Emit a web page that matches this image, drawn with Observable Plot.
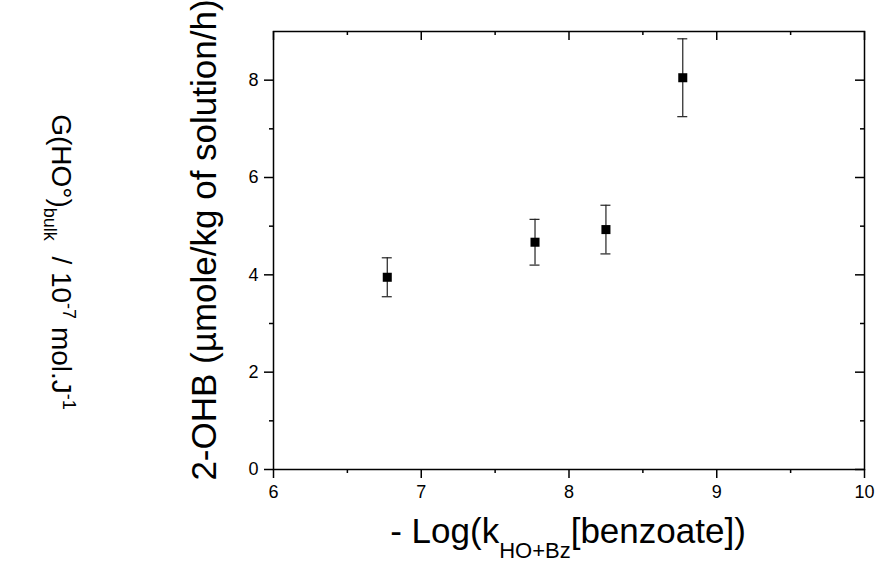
<!DOCTYPE html>
<html><head><meta charset="utf-8">
<script src="https://cdn.jsdelivr.net/npm/d3@7"></script>
<script src="https://cdn.jsdelivr.net/npm/@observablehq/plot@0.6"></script>
<style>body{margin:0;background:#fff} svg{display:block}</style>
</head><body><div id="chart"></div>
<script>
const xValues = [6.77, 7.77, 8.25, 8.77];
const yValues = [3.95, 4.67, 4.93, 8.05];
const yErrors = [0.40, 0.47, 0.50, 0.80];
const xMajorTicks = [6, 7, 8, 9, 10];
const xMinorTicks = [6.5, 7.5, 8.5, 9.5];
const yMajorTicks = [0, 2, 4, 6, 8];
const yMinorTicks = [1, 3, 5, 7];
const yLabel = "2-OHB (µmole/kg of solution/h)";
const xLabelMain = "- Log(k";
const xLabelSub = "HO+Bz";
const xLabelEnd = "[benzoate])";
const gLabelParts = ["G(HO°)", "bulk", "  / 10", "-7", " mol.J", "-1"];

const data = xValues.map((x, i) => ({x, y: yValues[i], e: yErrors[i]}));
const font = "'Liberation Sans', Arial, sans-serif";
const W = 882, H = 564, mL = 273, mR = 18, mT = 31, mB = 95;
const pw = W - mL - mR, ph = H - mT - mB;

const plot = Plot.plot({
  width: W, height: H, marginLeft: mL, marginRight: mR, marginTop: mT, marginBottom: mB,
  style: {fontFamily: font, fontSize: "18px", color: "#000", background: "#fff"},
  x: {domain: [6, 10]},
  y: {domain: [0, 9]},
  marks: [
    Plot.axisX({ticks: xMajorTicks, tickSize: 9, tickPadding: 7, label: null, strokeWidth: 1.5, tickFormat: d => String(d), fontSize: 18}),
    Plot.axisX({ticks: xMinorTicks, tickSize: 4, label: null, strokeWidth: 1.5, tickFormat: () => ""}),
    Plot.axisY({ticks: yMajorTicks, tickSize: 9, tickPadding: 6, label: null, strokeWidth: 1.5, tickFormat: d => String(d), fontSize: 18}),
    Plot.axisY({ticks: yMinorTicks, tickSize: 4, label: null, strokeWidth: 1.5, tickFormat: () => ""}),
    Plot.tickX(xMajorTicks, {x: d => d, insetBottom: ph - 9, stroke: "#000", strokeWidth: 1.5}),
    Plot.tickX(xMinorTicks, {x: d => d, insetBottom: ph - 4, stroke: "#000", strokeWidth: 1.5}),
    Plot.tickY(yMajorTicks, {y: d => d, insetLeft: pw - 9, stroke: "#000", strokeWidth: 1.5}),
    Plot.tickY(yMinorTicks, {y: d => d, insetLeft: pw - 4, stroke: "#000", strokeWidth: 1.5}),
    Plot.frame({stroke: "#000", strokeWidth: 1.5}),
    Plot.ruleX(data, {x: "x", y1: d => d.y - d.e, y2: d => d.y + d.e, stroke: "#222", strokeWidth: 1.2}),
    Plot.ruleY(data, {y: d => d.y + d.e, x1: "x", x2: "x", insetLeft: -5, insetRight: -5, stroke: "#222", strokeWidth: 1.2}),
    Plot.ruleY(data, {y: d => d.y - d.e, x1: "x", x2: "x", insetLeft: -5, insetRight: -5, stroke: "#222", strokeWidth: 1.2}),
    Plot.dot(data, {x: "x", y: "y", symbol: "square", r: 5.1, fill: "#000", stroke: null})
  ]
});
document.getElementById("chart").appendChild(plot);

const svg = d3.select(plot);
svg.append("text")
  .attr("transform", "translate(216,240) rotate(-90)")
  .attr("text-anchor", "middle")
  .style("font-family", font).style("font-size", "35px").attr("fill", "#000")
  .text(yLabel);

const xl = svg.append("text")
  .attr("x", 568).attr("y", 543)
  .attr("text-anchor", "middle")
  .style("font-family", font).style("font-size", "35px").attr("fill", "#000");
xl.append("tspan").text(xLabelMain);
xl.append("tspan").attr("dy", 15).style("font-size", "22px").text(xLabelSub);
xl.append("tspan").attr("dy", -15).text(xLabelEnd);

const gl = svg.append("text")
  .attr("transform", "translate(52,262) rotate(90)")
  .attr("text-anchor", "middle")
  .style("font-family", font).style("font-size", "28px").attr("fill", "#000")
  .attr("xml:space", "preserve");
gl.append("tspan").text(gLabelParts[0]);
gl.append("tspan").attr("dy", 8).style("font-size", "18px").text(gLabelParts[1]);
gl.append("tspan").attr("dy", -8).text(gLabelParts[2]);
gl.append("tspan").attr("dy", -11).style("font-size", "18px").text(gLabelParts[3]);
gl.append("tspan").attr("dy", 11).text(gLabelParts[4]);
gl.append("tspan").attr("dy", -11).style("font-size", "18px").text(gLabelParts[5]);
</script>
</body></html>
